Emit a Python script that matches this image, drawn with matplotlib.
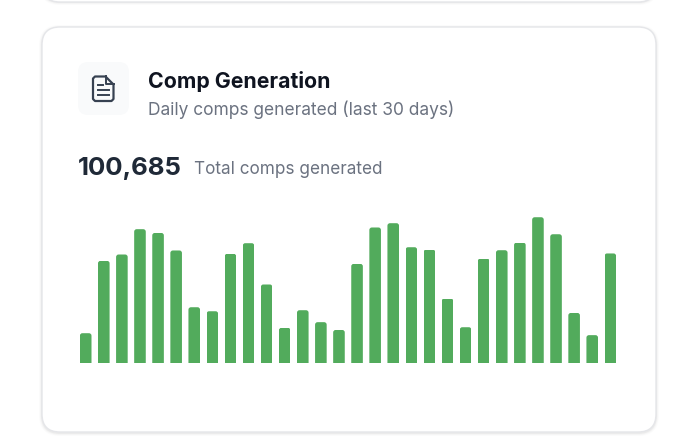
import matplotlib
matplotlib.use("Agg")
from matplotlib import pyplot as plt
from matplotlib.patches import FancyBboxPatch, PathPatch
from matplotlib.path import Path

W, H = 680, 448

plt.rcParams["font.family"] = ["Inter", "DejaVu Sans"]

title = "Comp Generation"
subtitle = "Daily comps generated (last 30 days)"
total_value = "100,685"
total_label = "Total comps generated"

# daily counts
days = list(range(1, 31))
comps = [
    1155, 3940, 4185, 5160, 5015, 4340, 2155, 2000, 4210, 4620,
    3030, 1360, 2040, 1580, 1280, 3825, 5225, 5390, 4465, 4375,
    2490, 1385, 4030, 4350, 4645, 5620, 4965, 1935, 1080, 4225,
]

BAR = "#52ab5c"
INK = "#0f1420"
SLATE = "#1f2937"
GREY = "#6b7280"
ICON = "#374151"


def rounded(x0, y0, x1, y1, r, **kw):
    return FancyBboxPatch(
        (x0, y0), x1 - x0, y1 - y0,
        boxstyle=f"round,pad=0,rounding_size={r}", **kw
    )


fig = plt.figure(figsize=(W / 100, H / 100), dpi=100, facecolor="white")

# page layer, in pixels from the top left
bg = fig.add_axes([0, 0, 1, 1])
bg.set_xlim(0, W)
bg.set_ylim(H, 0)
bg.axis("off")

# soft shadow + card
for grow, alpha in [(3, 0.015), (2, 0.025), (1, 0.04)]:
    bg.add_patch(rounded(42 - grow, 27 - grow + 1, 656 + grow, 432 + grow + 1, 18 + grow,
                         fc="#000000", ec="none", alpha=alpha))
bg.add_patch(rounded(42, 27, 656, 432, 18, fc="white", ec="#e5e6e9", lw=1.0))

# bottom of the card above, cut by the image edge
for grow, alpha in [(3, 0.015), (2, 0.025), (1, 0.04)]:
    bg.add_patch(rounded(42 - grow, -60, 656 + grow, 2 + grow, 18 + grow,
                         fc="#000000", ec="none", alpha=alpha))
bg.add_patch(rounded(42, -60, 656, 2, 18, fc="white", ec="#e5e6e9", lw=1.0))

# icon tile
bg.add_patch(rounded(78, 62, 129, 115, 10, fc="#f9fafb", ec="none"))
doc = Path(
    [(95, 76.5), (105.5, 76.5), (113.5, 84.5), (113.5, 99), (111.5, 101), (95, 101),
     (93, 99), (93, 78.5), (95, 76.5)],
    [Path.MOVETO, Path.LINETO, Path.LINETO, Path.LINETO, Path.LINETO, Path.LINETO,
     Path.LINETO, Path.LINETO, Path.CLOSEPOLY],
)
bg.add_patch(PathPatch(doc, fc="none", ec=ICON, lw=1.6, joinstyle="round"))
bg.plot([105.5, 105.5, 113.5], [76.5, 84.5, 84.5], color=ICON, lw=1.4)
bg.plot([98, 103], [85.5, 85.5], color=ICON, lw=1.4)
bg.plot([98, 109], [90, 90], color=ICON, lw=1.4)
bg.plot([98, 109], [95, 95], color=ICON, lw=1.4)

# header text
bg.text(147.5, 88, title, fontsize=15.3, fontweight="bold", color=INK, va="baseline")
bg.text(147.5, 115, subtitle, fontsize=12.5, color=GREY, va="baseline")
bg.text(78, 175, total_value, fontsize=18.6, fontweight="bold", color=SLATE, va="baseline")
bg.text(194, 174, total_label, fontsize=12.35, color=GREY, va="baseline")

# bars
ax_left, ax_right, ax_top, ax_bottom = 76, 620, 203, 363.2
ax = fig.add_axes([ax_left / W, 1 - ax_bottom / H, (ax_right - ax_left) / W, (ax_bottom - ax_top) / H])
ax.patch.set_alpha(0)
px_per_day = 18.09
units_per_px = 38.5
ax.set_xlim(days[0] - (85.7 - ax_left) / px_per_day, days[0] + (ax_right - 85.7) / px_per_day)
ax.set_ylim(0, (ax_bottom - ax_top) * units_per_px)
ax.axis("off")

bar_width = 11.6 / px_per_day
bars = ax.bar(days, comps, width=bar_width, color=BAR, linewidth=0)
# round the top corners only
for b in bars:
    clip = FancyBboxPatch(
        (b.get_x(), -10 * units_per_px), b.get_width(), b.get_height() + 10 * units_per_px,
        boxstyle="round,pad=0,rounding_size=0.14",
        mutation_aspect=units_per_px * px_per_day,
        transform=ax.transData, fc="none", ec="none",
    )
    ax.add_patch(clip)
    b.set_clip_path(clip)

fig.savefig("out.png", dpi=100)
